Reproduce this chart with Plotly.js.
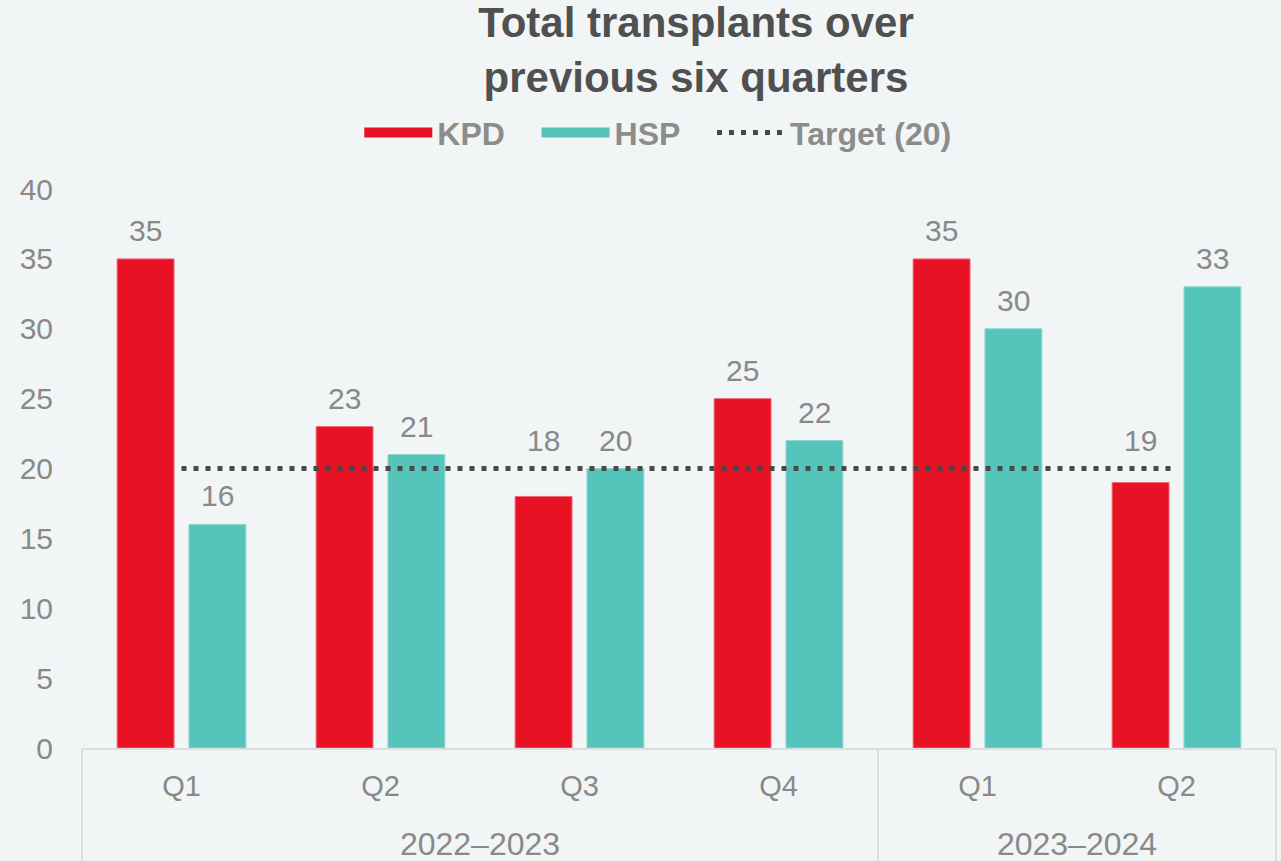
<!DOCTYPE html>
<html>
<head>
<meta charset="utf-8">
<script src="https://cdn.plot.ly/plotly-3.0.1.min.js"></script>
<style>
  html, body { margin: 0; padding: 0; background: #f2f5f6; }
  #chart { width: 1281px; height: 861px; }
</style>
</head>
<body>
<div id="chart"></div>
<script>
// ---- data ----
const yearGroups = ['2022–2023', '2022–2023', '2022–2023', '2022–2023', '2023–2024', '2023–2024'];
const quarters = ['Q1', 'Q2', 'Q3', 'Q4', 'Q1', 'Q2'];
const kpdValues = [35, 23, 18, 25, 35, 19];
const hspValues = [16, 21, 20, 22, 30, 33];
const targetValue = 20;
const seriesNames = ['KPD', 'HSP', 'Target (20)'];
const yTicks = [0, 5, 10, 15, 20, 25, 30, 35, 40];

// ---- styles ----
const RED = '#e81224';
const TEAL = '#55c4bb';
const GREY_TEXT = '#898989';
const DOT = '#484848';
const AXIS_GREY = '#dcdddf';
const FONT = 'Liberation Sans, Arial, sans-serif';
const PAD = '\u00a0\u00a0\u00a0';

// derived positions from the categories (index-based, as used by the category axis)
const idx = quarters.map((_, i) => i);
const uniqueGroups = [...new Set(yearGroups)];
const groupCenters = uniqueGroups.map(g => {
  const ii = idx.filter(i => yearGroups[i] === g);
  return (ii[0] + ii[ii.length - 1]) / 2;
});
const groupBounds = [-0.5].concat(uniqueGroups.map(g => {
  const ii = idx.filter(i => yearGroups[i] === g);
  return ii[ii.length - 1] + 0.5;
}));
const xRange = [-0.5, quarters.length - 0.5];

const xCats = [yearGroups, quarters];
const targetLine = quarters.map(() => targetValue);

// invisible helper traces so the overlaid label axes are drawn
function helper(axis) {
  return { type: 'scatter', mode: 'markers', x: xRange, y: [0, 0], xaxis: axis, yaxis: 'y',
    marker: { opacity: 0, size: 1 }, showlegend: false, hoverinfo: 'skip' };
}

const traces = [
  { type: 'bar', name: seriesNames[0], x: xCats, y: kpdValues,
    marker: { color: RED, line: { color: '#f06a78', width: 1 } }, showlegend: false, hoverinfo: 'y' },
  { type: 'bar', name: seriesNames[1], x: xCats, y: hspValues,
    marker: { color: TEAL, line: { color: '#8fd8d1', width: 1 } }, showlegend: false, hoverinfo: 'y' },
  { type: 'scatter', mode: 'lines', name: seriesNames[2], x: xCats, y: targetLine,
    line: { color: DOT, width: 5, dash: '5px,7px' }, showlegend: false, hoverinfo: 'skip' },
  // legend entries
  { type: 'scatter', mode: 'lines', name: seriesNames[0] + PAD, x: [null], y: [null],
    line: { color: RED, width: 16 } },
  { type: 'scatter', mode: 'lines', name: seriesNames[1] + PAD, x: [null], y: [null],
    line: { color: TEAL, width: 16 } },
  { type: 'scatter', mode: 'lines', name: seriesNames[2], x: [null], y: [null],
    line: { color: DOT, width: 5, dash: '5px,7px' } },
  helper('x2'), helper('x3'), helper('x4')
];

function labelFor(v, i, shift) {
  const clash = v < targetValue && v + 3 > targetValue;
  return {
    x: i, y: clash ? targetValue : v, xref: 'x', yref: 'y', text: String(v), showarrow: false,
    xanchor: 'center', yanchor: 'bottom', xshift: shift, yshift: 10,
    font: { family: FONT, size: 30, color: GREY_TEXT }
  };
}
const annotations = []
  .concat(kpdValues.map((v, i) => labelFor(v, i, -36)))
  .concat(hspValues.map((v, i) => labelFor(v, i, 36)));

const overlayAxis = {
  overlaying: 'x', anchor: 'y', side: 'bottom', type: 'linear', range: xRange, fixedrange: true,
  ticks: '', showgrid: false, zeroline: false, showline: false
};

const layout = {
  width: 1281, height: 861,
  paper_bgcolor: '#f2f5f6', plot_bgcolor: '#f2f5f6',
  font: { family: FONT, color: GREY_TEXT },
  margin: { l: 82, r: 5, t: 189, b: 113 },
  title: {
    text: '<b>Total transplants over<br>previous six quarters</b>',
    font: { family: FONT, size: 42, color: '#505050' },
    xref: 'container', x: 0.5433, xanchor: 'center',
    yref: 'container', y: 0.957, yanchor: 'top'
  },
  barmode: 'group', bargap: 0.278, bargroupgap: 0.208,
  showlegend: true,
  legend: {
    orientation: 'h', xref: 'container', yref: 'container',
    x: 0.5135, xanchor: 'center', y: 0.846, yanchor: 'middle',
    font: { family: FONT, size: 32, color: '#8c8c8c', weight: 'bold' },
    bgcolor: 'rgba(0,0,0,0)', itemwidth: 68
  },
  xaxis: {
    type: 'multicategory',
    showline: true, linecolor: AXIS_GREY, linewidth: 2,
    showdividers: false, showticklabels: false,
    ticks: '', showgrid: false, zeroline: false
  },
  // quarter labels
  xaxis2: Object.assign({}, overlayAxis, {
    tickvals: idx, ticktext: quarters,
    tickfont: { family: FONT, size: 29, color: GREY_TEXT }, ticklabelstandoff: 18
  }),
  // year group labels
  xaxis3: Object.assign({}, overlayAxis, {
    tickvals: groupCenters, ticktext: uniqueGroups,
    tickfont: { family: FONT, size: 32, color: GREY_TEXT }, ticklabelstandoff: 74
  }),
  // group dividers
  xaxis4: Object.assign({}, overlayAxis, {
    tickvals: groupBounds, ticks: 'outside', ticklen: 120, tickwidth: 2, tickcolor: AXIS_GREY,
    showticklabels: false
  }),
  yaxis: {
    range: [0, 40], tickvals: yTicks, ticktext: yTicks.map(String),
    showgrid: false, zeroline: false, showline: false, ticks: '',
    tickfont: { family: FONT, size: 30, color: GREY_TEXT },
    ticklabelstandoff: 28
  },
  annotations: annotations
};

Plotly.newPlot('chart', traces, layout, { displayModeBar: false, staticPlot: true });
</script>
</body>
</html>
